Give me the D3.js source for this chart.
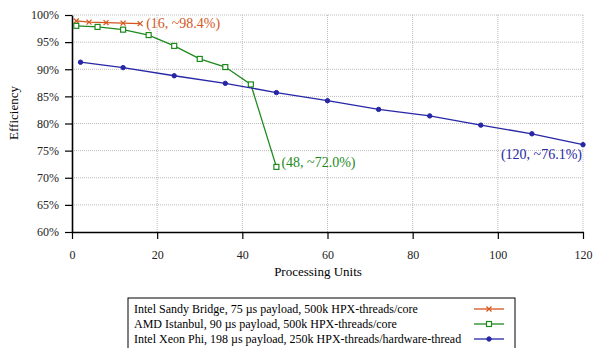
<!DOCTYPE html>
<html>
<head>
<meta charset="utf-8">
<script src="https://cdn.jsdelivr.net/npm/d3@7"></script>
<style>
  body { margin: 0; background: #fff; }
  svg text { font-family: "Liberation Serif", "Times New Roman", serif; }
</style>
</head>
<body>
<script>
var width = 594, height = 348

// data
var sandyX = [1, 4, 8, 12, 16]
var sandyY = [98.9, 98.7, 98.6, 98.5, 98.4]
var amdX = [1, 6, 12, 18, 24, 30, 36, 42, 48]
var amdY = [98.0, 97.8, 97.3, 96.3, 94.3, 91.9, 90.4, 87.2, 72.0]
var phiX = [2, 12, 24, 36, 48, 60, 72, 84, 96, 108, 120]
var phiY = [91.3, 90.3, 88.8, 87.4, 85.7, 84.2, 82.6, 81.4, 79.7, 78.1, 76.1]
var xTicks = [0, 20, 40, 60, 80, 100, 120]
var yTicks = [60, 65, 70, 75, 80, 85, 90, 95, 100]
var seriesNames = [
  "Intel Sandy Bridge, 75 \u00b5s payload, 500k HPX-threads/core",
  "AMD Istanbul, 90 \u00b5s payload, 500k HPX-threads/core",
  "Intel Xeon Phi, 198 \u00b5s payload, 250k HPX-threads/hardware-thread"
]
var colors = ["#d4561c", "#1e8a1e", "#2626a6"]
var markers = ["cross", "square", "circle"]
var notes = [
  {x: 16, y: 98.4, text: "(16, ~98.4%)", s: 0},
  {x: 48, y: 72.0, text: "(48, ~72.0%)", s: 1},
  {x: 120, y: 76.1, text: "(120, ~76.1%)", s: 2}
]

var series = [
  {xs: sandyX, ys: sandyY},
  {xs: amdX, ys: amdY},
  {xs: phiX, ys: phiY}
].map(function(d, i) {
  return {name: seriesNames[i], color: colors[i], marker: markers[i],
    pts: d.xs.map(function(x, j) { return {x: x, y: d.ys[j]} })}
})

var plotLeft = 72, plotRight = 583, plotTop = 15, plotBottom = 232

var svg = d3.select("body").append("svg")
  .attr("width", width)
  .attr("height", height)

var x = d3.scaleLinear().domain([0, 120]).range([plotLeft, plotRight])
var y = d3.scaleLinear().domain([60, 100]).range([plotBottom, plotTop])

// grid
svg.append("g").selectAll("line")
  .data(xTicks.slice(1))
  .enter().append("line")
  .attr("x1", function(d) { return x(d) }).attr("x2", function(d) { return x(d) })
  .attr("y1", plotTop).attr("y2", plotBottom)
  .attr("stroke", "#bbb").attr("stroke-dasharray", "1,1")
svg.append("g").selectAll("line")
  .data(yTicks.slice(1))
  .enter().append("line")
  .attr("x1", plotLeft).attr("x2", plotRight)
  .attr("y1", function(d) { return y(d) }).attr("y2", function(d) { return y(d) })
  .attr("stroke", "#bbb").attr("stroke-dasharray", "1,1")

// axes
var xAxis = svg.append("g")
  .attr("transform", "translate(0," + plotBottom + ")")
  .call(d3.axisBottom(x).tickValues(xTicks).tickSizeInner(7).tickSizeOuter(0).tickPadding(11))
var yAxis = svg.append("g")
  .attr("transform", "translate(" + plotLeft + ",0)")
  .call(d3.axisLeft(y).tickValues(yTicks).tickSizeInner(7).tickSizeOuter(0).tickPadding(6)
    .tickFormat(function(d) { return d + "%" }))
svg.selectAll(".domain").attr("stroke", "#000").attr("stroke-width", 1.6)
svg.selectAll(".tick line").attr("stroke", "#000").attr("stroke-width", 1.2)
svg.selectAll(".tick text").attr("font-family", "Liberation Serif").attr("font-size", 12).attr("fill", "#222")

// axis titles
svg.append("text")
  .attr("x", 318).attr("y", 276)
  .attr("text-anchor", "middle").attr("font-size", 13)
  .text("Processing Units")
svg.append("text")
  .attr("transform", "translate(18,113) rotate(-90)")
  .attr("text-anchor", "middle").attr("font-size", 13)
  .text("Efficiency")

var line = d3.line()
  .x(function(d) { return x(d.x) })
  .y(function(d) { return y(d.y) })

function drawMarker(g, type, color) {
  if (type == "cross") {
    g.append("path").attr("d", "M-2.5,-2.5L2.5,2.5M-2.5,2.5L2.5,-2.5")
      .attr("stroke", color).attr("stroke-width", 1.2).attr("fill", "none")
  } else if (type == "square") {
    g.append("rect").attr("x", -2.5).attr("y", -2.5).attr("width", 5).attr("height", 5)
      .attr("stroke", color).attr("stroke-width", 1.2).attr("fill", "#fff")
  } else {
    g.append("circle").attr("r", 2.2)
      .attr("stroke", color).attr("stroke-width", 1).attr("fill", color)
  }
}

series.forEach(function(s) {
  svg.append("path")
    .datum(s.pts)
    .attr("d", line)
    .attr("fill", "none")
    .attr("stroke", s.color)
    .attr("stroke-width", 1.3)
  svg.append("g").selectAll("g")
    .data(s.pts)
    .enter().append("g")
    .attr("transform", function(d) { return "translate(" + x(d.x) + "," + y(d.y) + ")" })
    .each(function() { drawMarker(d3.select(this), s.marker, s.color) })
})

// annotations
var noteOffsets = [[6, 4, "start"], [5, 0, "start"], [-1, 14, "end"]]
svg.append("g").selectAll("text")
  .data(notes)
  .enter().append("text")
  .attr("x", function(d) { return x(d.x) + noteOffsets[d.s][0] })
  .attr("y", function(d) { return y(d.y) + noteOffsets[d.s][1] })
  .attr("text-anchor", function(d) { return noteOffsets[d.s][2] })
  .attr("font-size", 14)
  .attr("fill", function(d) { return colors[d.s] })
  .text(function(d) { return d.text })

// legend
svg.append("rect")
  .attr("x", 128).attr("y", 298).attr("width", 387).attr("height", 55)
  .attr("fill", "none").attr("stroke", "#000").attr("stroke-width", 1)
var rows = svg.append("g").selectAll("g")
  .data(series)
  .enter().append("g")
  .attr("transform", function(d, i) { return "translate(0," + (309 + i * 15) + ")" })
rows.append("text")
  .attr("x", 134).attr("y", 4)
  .attr("font-size", 12)
  .text(function(d) { return d.name })
rows.append("line")
  .attr("x1", 474).attr("x2", 504)
  .attr("stroke", function(d) { return d.color })
  .attr("stroke-width", 1.3)
rows.append("g")
  .attr("transform", "translate(489,0)")
  .each(function(d) { drawMarker(d3.select(this), d.marker, d.color) })
</script>
</body>
</html>
